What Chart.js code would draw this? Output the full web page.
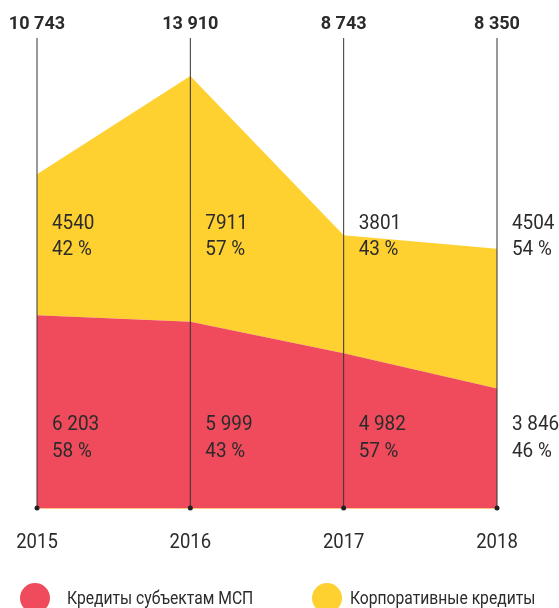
<!DOCTYPE html>
<html>
<head>
<meta charset="utf-8">
<script src="https://cdn.jsdelivr.net/npm/chart.js@4"></script>
<style>
  body { margin: 0; background: #fff; }
  canvas { display: block; }
</style>
</head>
<body>
<canvas id="grafico" width="559" height="608"></canvas>
<script>
// dados do gráfico
const anos = ['2015', '2016', '2017', '2018'];
const msp = [6203, 5999, 4982, 3846];
const corporativos = [4540, 7911, 3801, 4504];
const totaisTxt = ['10 743', '13 910', '8 743', '8 350'];
const mspTxt = ['6 203', '5 999', '4 982', '3 846'];
const mspPct = ['58 %', '43 %', '57 %', '46 %'];
const corpTxt = ['4540', '7911', '3801', '4504'];
const corpPct = ['42 %', '57 %', '43 %', '54 %'];
const legendas = ['Кредиты субъектам МСП', 'Корпоративные кредиты'];

const VERMELHO = 'rgb(239, 75, 92)';
const AMARELO = 'rgb(254, 208, 48)';
const TEXTO = '#2b2b2b';

// texto um pouco "condensado" (fonte original é Roboto Condensed)
function texto(ctx, str, x, y, font, align, sx) {
  ctx.save();
  ctx.font = font;
  ctx.fillStyle = TEXTO;
  ctx.textAlign = align;
  ctx.textBaseline = 'alphabetic';
  ctx.translate(x, y);
  ctx.scale(sx, 1);
  ctx.fillText(str, 0, 0);
  ctx.restore();
}

const decoracao = {
  id: 'decoracao',
  afterDatasetsDraw(chart) {
    const ctx = chart.ctx;
    const xs = chart.scales.x;
    const area = chart.chartArea;

    // linha de base
    ctx.save();
    ctx.strokeStyle = 'rgba(250, 170, 80, 0.7)';
    ctx.lineWidth = 1;
    ctx.beginPath();
    ctx.moveTo(area.left, area.bottom + 0.5);
    ctx.lineTo(area.right, area.bottom + 0.5);
    ctx.stroke();
    ctx.restore();

    anos.forEach((ano, i) => {
      const x = xs.getPixelForValue(i);

      ctx.save();
      ctx.strokeStyle = '#333';
      ctx.lineWidth = 1;
      ctx.beginPath();
      ctx.moveTo(x, 38);
      ctx.lineTo(x, area.bottom);
      ctx.stroke();
      ctx.fillStyle = '#222';
      ctx.beginPath();
      ctx.arc(x, area.bottom, 2.5, 0, Math.PI * 2);
      ctx.fill();
      ctx.restore();

      texto(ctx, totaisTxt[i], x, 29, 'bold 19px Roboto', 'center', 0.95);
      texto(ctx, ano, x, 548, '21px Roboto', 'center', 0.88);

      texto(ctx, corpTxt[i], x + 15, 229, '21px Roboto', 'left', 0.9);
      texto(ctx, corpPct[i], x + 15, 255, '21px Roboto', 'left', 0.9);
      texto(ctx, mspTxt[i], x + 15, 430, '21px Roboto', 'left', 0.9);
      texto(ctx, mspPct[i], x + 15, 457, '21px Roboto', 'left', 0.9);
    });

    // legenda
    const itens = [
      { cor: VERMELHO, cx: 35, tx: 67 },
      { cor: AMARELO, cx: 327, tx: 350 }
    ];
    itens.forEach((it, i) => {
      ctx.save();
      ctx.fillStyle = it.cor;
      ctx.beginPath();
      ctx.arc(it.cx, 598, 15, 0, Math.PI * 2);
      ctx.fill();
      ctx.restore();
      texto(ctx, legendas[i], it.tx, 604, '18px Roboto', 'left', 0.87);
    });
  }
};

new Chart(document.getElementById('grafico'), {
  type: 'line',
  data: {
    labels: anos,
    datasets: [
      {
        label: legendas[0],
        data: msp,
        backgroundColor: VERMELHO,
        borderWidth: 0,
        pointRadius: 0,
        fill: 'origin'
      },
      {
        label: legendas[1],
        data: corporativos,
        backgroundColor: AMARELO,
        borderWidth: 0,
        pointRadius: 0,
        fill: '-1'
      }
    ]
  },
  options: {
    responsive: false,
    devicePixelRatio: 1,
    animation: false,
    layout: { padding: { left: 37, right: 62, top: 35, bottom: 100 } },
    elements: { line: { tension: 0 } },
    scales: {
      x: { display: false, offset: false },
      y: { display: false, stacked: true, min: 0, max: 15230 }
    },
    plugins: {
      legend: { display: false },
      tooltip: { enabled: false }
    }
  },
  plugins: [decoracao]
});
</script>
</body>
</html>
